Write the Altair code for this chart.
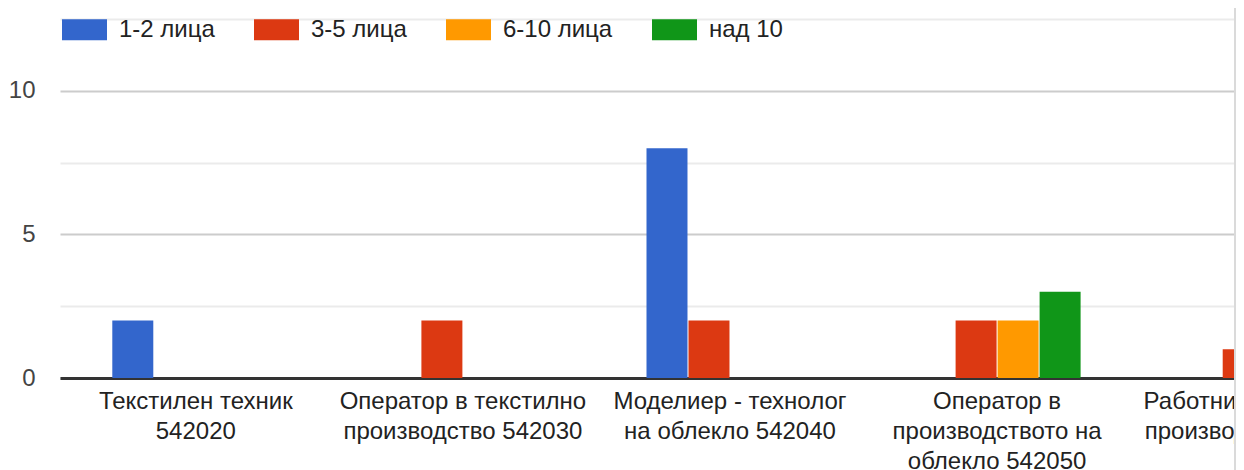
import json
import altair as alt
import pandas as pd

categories = [
    "Текстилен техник 542020",
    "Оператор в текстилно производство 542030",
    "Моделиер - технолог на облекло 542040",
    "Оператор в производството на облекло 542050",
    "Работник в текстилно производство 542060",
]
label_lines = [
    ["Текстилен техник", "542020"],
    ["Оператор в текстилно", "производство 542030"],
    ["Моделиер - технолог", "на облекло 542040"],
    ["Оператор в", "производството на", "облекло 542050"],
    ["Работник в текстилно", "производство 542060"],
]
series = ["1-2 лица", "3-5 лица", "6-10 лица", "над 10"]
colors = ["#3366cc", "#dc3912", "#ff9900", "#109618"]
v_1_2 = [2, 0, 8, 0, 0]
v_3_5 = [0, 2, 2, 2, 1]
v_6_10 = [0, 0, 0, 2, 0]
v_over10 = [0, 0, 0, 3, 0]
y_ticks = [0, 2.5, 5, 7.5, 10, 12.5]

rows = []
for s, vals in zip(series, [v_1_2, v_3_5, v_6_10, v_over10]):
    for c, v in zip(categories, vals):
        if v:
            rows.append({"cat": c, "series": s, "value": v})
df = pd.DataFrame(rows)

W, H = 1174, 359
PAD = {"left": 52, "top": 11, "right": 2, "bottom": 92}
step = 267.1
p_inner = 1 - 167 / step
p_outer = 0.1958
x_range_end = step * (len(categories) - p_inner + 2 * p_outer)

label_expr = " : ".join(
    f"datum.label == {json.dumps(c, ensure_ascii=False)} ? {json.dumps(l, ensure_ascii=False)}"
    for c, l in zip(categories, label_lines)
) + " : datum.label"

FONT = "Liberation Sans, Arial, sans-serif"

bars = alt.Chart(df).mark_bar().encode(
    x=alt.X(
        "cat:N",
        sort=categories,
        scale=alt.Scale(domain=categories, range=[0, x_range_end],
                        paddingInner=p_inner, paddingOuter=p_outer),
        axis=alt.Axis(
            title=None, labelExpr=label_expr, labelFontSize=24, labelColor="#222222",
            labelPadding=11, ticks=False, domainColor="#333333", domainWidth=3,
            labelLimit=1000, labelOverlap=False, labelFlush=False, labelAngle=0,
            labelLineHeight=30, grid=False, labelFont=FONT,
        ),
    ),
    xOffset=alt.XOffset("series:N", sort=series,
                        scale=alt.Scale(domain=series, paddingInner=0.024, paddingOuter=0)),
    y=alt.Y(
        "value:Q",
        scale=alt.Scale(domain=[0, 12.5], nice=False),
        axis=alt.Axis(
            title=None, values=y_ticks,
            labelExpr="datum.value % 5 == 0 ? datum.label : ''",
            gridColor={"condition": {"test": "datum.value % 5 == 0", "value": "#cccccc"},
                       "value": "#ebebeb"},
            gridWidth=2, domain=False, ticks=False, labelPadding=25,
            labelFontSize=24, labelColor="#444444", labelFont=FONT,
        ),
    ),
    color=alt.Color(
        "series:N",
        scale=alt.Scale(domain=series, range=colors),
        legend=alt.Legend(
            title=None, orient="none", legendX=2, legendY=-12, direction="horizontal",
            symbolType="M-1,-0.467H1V0.467H-1Z", symbolSize=2025, symbolStrokeWidth=0,
            symbolOpacity=1, labelFontSize=24, labelColor="#222222", labelOffset=12,
            columnPadding=39, padding=0, labelFont=FONT,
        ),
    ),
)

edge = alt.Chart(pd.DataFrame({"a": [0]})).mark_rule(color="#dadada", strokeWidth=2).encode(
    x=alt.value(W + 1), y=alt.value(-PAD["top"]), y2=alt.value(H + PAD["bottom"])
)

chart = (
    alt.layer(bars, edge)
    .properties(width=W, height=H, padding=PAD, autosize=alt.AutoSizeParams(type="none"))
    .configure(font=FONT)
    .configure_view(strokeWidth=0)
)

chart.save("out.html", embed_options={"renderer": "svg", "actions": False})
